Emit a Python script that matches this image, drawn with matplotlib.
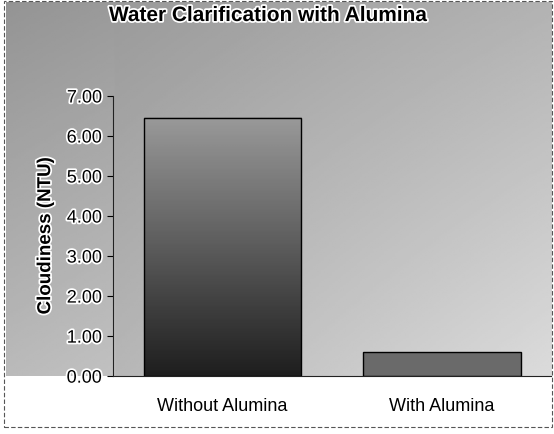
import numpy as np
import matplotlib
matplotlib.use("Agg")
import matplotlib.pyplot as plt
import matplotlib.patheffects as pe
from matplotlib.patches import Rectangle

# data
categories = ["Without Alumina", "With Alumina"]
cloudiness = [6.45, 0.60]
yticks = [0, 1, 2, 3, 4, 5, 6, 7]

plt.rcParams["font.family"] = ["Liberation Sans", "DejaVu Sans"]

fig = plt.figure(figsize=(5.54, 4.35), dpi=100, facecolor="white")

# grey scanned-looking backdrop behind title and plot (one continuous gradient)
bg_ax = fig.add_axes([0.01, 0.133, 0.985, 0.86], zorder=-1)
gx, gy = np.meshgrid(np.linspace(0, 1, 200), np.linspace(0, 1, 200))
bg = 0.74 + 0.12 * gx - 0.16 * gy - 0.06 * (1 - gx) * (1 - gy) + 0.05 * (1 - gx) * (1 - gy) * (gx < 0.2)
bg_ax.imshow(bg, origin="lower", cmap="gray", vmin=0, vmax=1, aspect="auto")
bg_ax.axis("off")

fig.patches.append(Rectangle((0.008, 0.015), 0.988, 0.98, transform=fig.transFigure,
                             facecolor="none", edgecolor="#555555", lw=0.8,
                             linestyle=(0, (4, 2)), zorder=5))

ax = fig.add_axes([0.204, 0.133, 0.791, 0.644])
x = np.arange(len(categories))

bars = ax.bar(x, cloudiness, width=0.72, facecolor="none", edgecolor="black",
              linewidth=1.0, zorder=3)

# dark-at-bottom fill for the bars
grad = np.linspace(0.12, 0.6, 100).reshape(-1, 1)
for b in bars:
    x0, w, h = b.get_x(), b.get_width(), b.get_height()
    if h > 1:
        ax.imshow(grad, extent=[x0, x0 + w, 0, h], origin="lower", cmap="gray",
                  vmin=0, vmax=1, aspect="auto", zorder=2)
    else:
        ax.add_patch(Rectangle((x0, 0), w, h, facecolor="#6a6a6a",
                               edgecolor="none", zorder=2))
ax.set_xlim(-0.5, 1.5)
ax.set_ylim(0, 7)

ax.set_facecolor("none")
for s in ["top", "right"]:
    ax.spines[s].set_visible(False)
ax.spines["left"].set_color("#222222")
ax.spines["bottom"].set_color("#222222")

ax.set_yticks(yticks)
ax.set_yticklabels([f"{v:.2f}" for v in yticks])
ax.set_xticks(x)
ax.set_xticklabels(categories)
ax.tick_params(axis="y", labelsize=13, length=4, direction="out", pad=4)
ax.tick_params(axis="x", labelsize=13, length=0, pad=15)

halo = [pe.withStroke(linewidth=2.5, foreground="white")]
for lbl in ax.get_yticklabels():
    lbl.set_path_effects(halo)

ax.set_ylabel("Cloudiness (NTU)", fontsize=13.5, fontweight="bold", labelpad=9,
              path_effects=halo)

fig.text(0.485, 0.962, "Water Clarification with Alumina", ha="center", va="center",
         fontsize=15, fontweight="bold", path_effects=halo)

fig.savefig("out.png", dpi=100, facecolor=fig.get_facecolor())
